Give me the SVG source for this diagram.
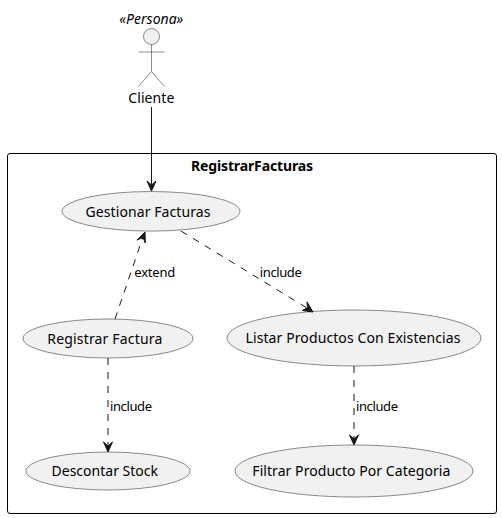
<svg xmlns="http://www.w3.org/2000/svg" width="502" height="518" viewBox="0 0 502 518">
<style>
text{font-family:"Noto Sans",sans-serif;font-size:14px;fill:#000}
text.l{font-size:13px}
.u{fill:#F1F1F1;stroke:#181818;stroke-width:.5}
.a{fill:none;stroke:#181818;stroke-width:.5}
.c{fill:none;stroke:#181818;stroke-width:1}
.d{stroke-dasharray:7,7}
.h{fill:#181818;stroke:#181818;stroke-width:1}
</style>
<rect width="502" height="518" fill="#fff"/>
<g id="RegistrarFacturas">
<rect x="7.5" y="153.5" width="489" height="360" rx="2.5" fill="none" stroke="#000" stroke-width="1"/>
<text x="191" y="171" textLength="122" style="font-weight:700">RegistrarFacturas</text>
</g>
<g id="Cliente">
<text x="119.300" y="24" textLength="64" font-style="italic">«Persona»</text>
<circle cx="151.500" cy="36.500" r="8" fill="#F1F1F1" stroke="#181818" stroke-width=".5"/>
<path class="a" d="M151.500 44.500V71.500M138.500 52H164.500M151.500 71.500L138.500 86.500M151.500 71.500L164.500 86.500"/>
<text x="128.300" y="103" textLength="46">Cliente</text>
</g>
<g id="GestionarFacturas"><ellipse class="u" cx="151" cy="211.300" rx="89" ry="19.800"/><text x="85.500" y="217" textLength="125">Gestionar Facturas</text></g>
<g id="RegistrarFactura"><ellipse class="u" cx="108" cy="338.500" rx="85" ry="19.500"/><text x="47.300" y="344" textLength="115">Registrar Factura</text></g>
<g id="DescontarStock"><ellipse class="u" cx="108" cy="471" rx="82" ry="19"/><text x="51.500" y="476" textLength="106.500">Descontar Stock</text></g>
<g id="ListarProductos"><ellipse class="u" cx="354" cy="338" rx="127" ry="28"/><text x="245.500" y="343" textLength="215">Listar Productos Con Existencias</text></g>
<g id="FiltrarProducto"><ellipse class="u" cx="354" cy="471" rx="119" ry="26"/><text x="252.300" y="476" textLength="198">Filtrar Producto Por Categoria</text></g>
<g id="connectors">
<path class="c" d="M151.500 107V185"/>
<path class="h" d="M151.500 191L147 181L151.500 185L156 181Z"/>
<path class="c d" d="M115 319L143 237"/>
<path class="h" d="M145 232L145.300 243L143 237.500L136.900 240Z"/>
<text class="l" x="134.300" y="277" textLength="41">extend</text>
<path class="c d" d="M181 231L307 308"/>
<path class="h" d="M313 312L302.300 310.500L307.500 307.600L307 301.900Z"/>
<text class="l" x="259.800" y="277" textLength="42">include</text>
<path class="c d" d="M108 358V446"/>
<path class="h" d="M108 452L103.500 442L108 446L112.500 442Z"/>
<text class="l" x="110" y="411" textLength="42">include</text>
<path class="c d" d="M354 366V439"/>
<path class="h" d="M354 445L349.500 435L354 439L358.500 435Z"/>
<text class="l" x="356" y="411" textLength="42">include</text>
</g>
</svg>
